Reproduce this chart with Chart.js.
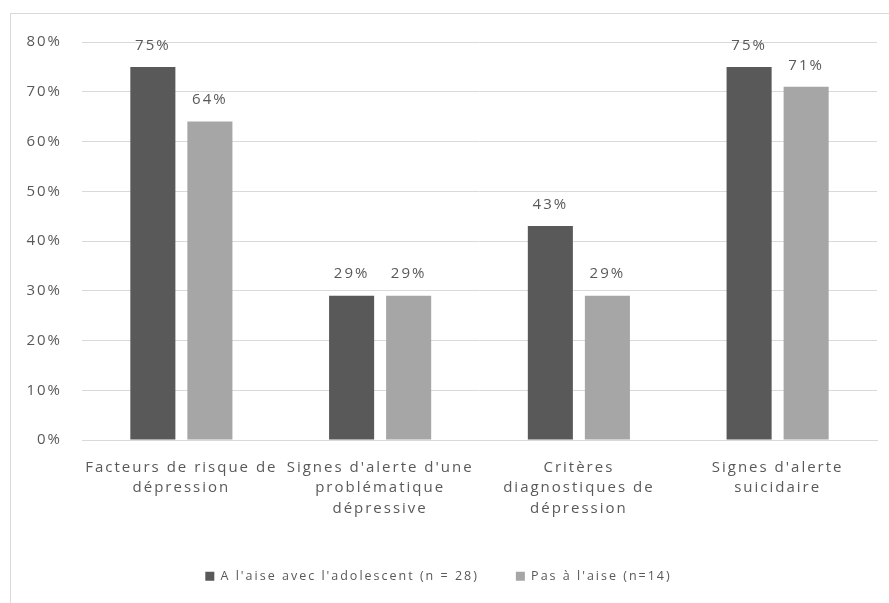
<!DOCTYPE html>
<html>
<head>
<meta charset="utf-8">
<script src="https://cdn.jsdelivr.net/npm/chart.js@4"></script>
<style>
  html, body { margin: 0; padding: 0; background: #fff; }
  #wrap { position: relative; width: 889px; height: 603px; }
  #frame { position: absolute; left: 10px; top: 13px; width: 900px; height: 600px; border: 1px solid #d9d9d9; box-sizing: border-box; }
  canvas { position: absolute; left: 0; top: 0; }
</style>
</head>
<body>
<div id="wrap">
  <div id="frame"></div>
  <canvas id="myChart" width="889" height="603"></canvas>
</div>
<script>
var categories = [
  ["Facteurs de risque de", "dépression"],
  ["Signes d'alerte d'une", "problématique", "dépressive"],
  ["Critères", "diagnostiques de", "dépression"],
  ["Signes d'alerte", "suicidaire"]
];
var aLaise = [75, 29, 43, 75];
var pasALaise = [64, 29, 29, 71];
var seriesNames = ["A l'aise avec l'adolescent (n = 28)", "Pas à l'aise (n=14)"];
var yTicks = [0, 10, 20, 30, 40, 50, 60, 70, 80];

var FONT = "'Open Sans', 'Liberation Sans', sans-serif";
var TEXT = '#595959';

// the original text is spaced out a lot, so widen it a bit
function spacing(chart) { chart.ctx.letterSpacing = '2px'; }
var spaced = {
  id: 'spaced',
  beforeInit: spacing,
  beforeUpdate: spacing,
  beforeLayout: spacing,
  beforeDraw: spacing,
  afterInit: function(chart) {
    // wide gap between legend items, but keep the legend box short
    var lg = chart.legend;
    var fit = lg.fit;
    lg.fit = function() {
      fit.apply(this, arguments);
      this.height = 50;
    };
  }
};

// labels above bars (no datalabels plugin offline)
var valueLabels = {
  id: 'valueLabels',
  afterDatasetsDraw: function(chart) {
    var ctx = chart.ctx;
    ctx.save();
    ctx.font = '15px ' + FONT;
    ctx.fillStyle = TEXT;
    ctx.textAlign = 'center';
    ctx.textBaseline = 'bottom';
    chart.data.datasets.forEach(function(ds, i) {
      chart.getDatasetMeta(i).data.forEach(function(bar, j) {
        ctx.fillText(ds.data[j] + '%', bar.x, bar.y - 14);
      });
    });
    ctx.restore();
  }
};

var ctx = document.getElementById("myChart").getContext('2d');
var myChart = new Chart(ctx, {
  type: 'bar',
  data: {
    labels: categories,
    datasets: [{
      label: seriesNames[0],
      backgroundColor: '#595959',
      data: aLaise
    }, {
      label: seriesNames[1],
      backgroundColor: '#a6a6a6',
      data: pasALaise
    }]
  },
  options: {
    responsive: false,
    animation: false,
    layout: { padding: { top: 42, right: 12, bottom: 20, left: 0 } },
    datasets: { bar: { barPercentage: 0.79, categoryPercentage: 0.574 } },
    plugins: {
      tooltip: { enabled: false },
      legend: {
        position: 'bottom',
        labels: {
          color: TEXT,
          font: { family: FONT, size: 12.5 },
          boxWidth: 9,
          boxHeight: 9,
          padding: 37
        }
      }
    },
    scales: {
      x: {
        grid: { display: false, drawTicks: false },
        border: { color: '#d9d9d9' },
        ticks: { color: TEXT, font: { family: FONT, size: 15, lineHeight: 1.34 }, padding: 18, maxRotation: 0, autoSkip: false },
        afterFit: function(s) { s.height = 93; }
      },
      y: {
        min: 0,
        max: 80,
        afterBuildTicks: function(s) { s.ticks = yTicks.map(function(v) { return { value: v }; }); },
        grid: { color: '#d9d9d9', drawTicks: false },
        border: { display: false },
        ticks: {
          color: TEXT,
          font: { family: FONT, size: 15 },
          padding: 20,
          callback: function(v) { return v + '%'; }
        },
        afterFit: function(s) { s.width = 82; }
      }
    }
  },
  plugins: [spaced, valueLabels]
});
</script>
</body>
</html>
